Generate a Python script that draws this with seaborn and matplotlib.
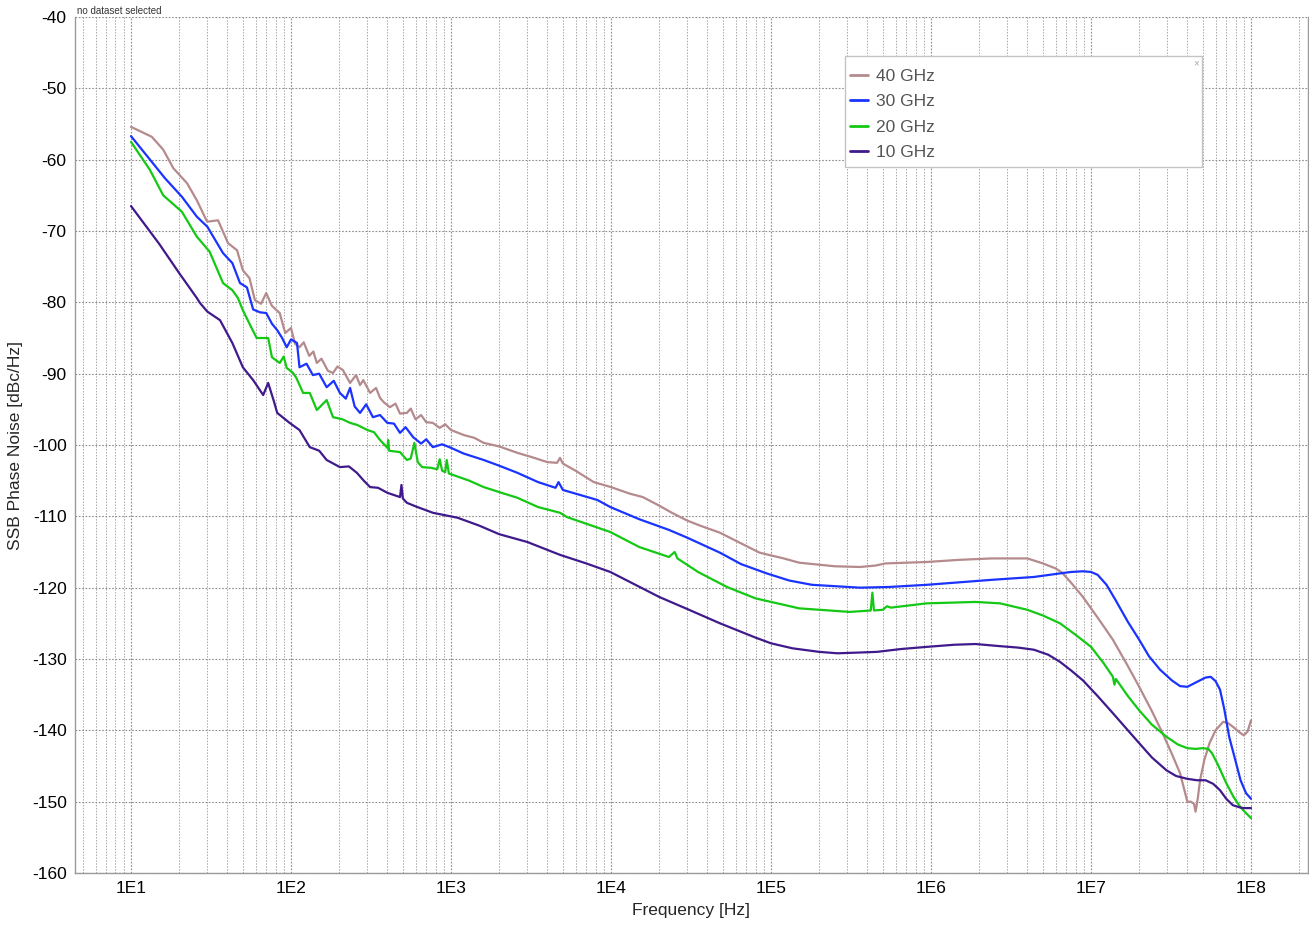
import numpy as np
import pandas as pd
import matplotlib
matplotlib.use("Agg")
import matplotlib.pyplot as plt
from matplotlib.patches import Rectangle
import seaborn as sns
from matplotlib.ticker import LogLocator, FixedLocator, NullFormatter

# ---------------- data ----------------
f_40 = [10, 13.5, 15.9, 18.4, 22.4, 25.8, 29.9, 35, 40.4, 46, 50, 55, 59.5, 65, 70, 76, 85, 92,
        100, 106, 113, 120, 130, 138, 145, 155, 170, 183, 195, 211, 234, 255, 270, 283, 312, 340,
        360, 380, 415, 450, 480, 530, 560, 600, 650, 700, 770, 850, 920, 1000, 1200, 1400, 1600,
        2000, 2600, 3200, 4000, 4600, 4800, 5000, 6000, 7800, 1.0e4, 1.3e4, 1.58e4, 2.0e4, 2.4e4,
        3.0e4, 3.6e4, 4.8e4, 6.0e4, 8.5e4, 1.2e5, 1.5e5, 2.5e5, 3.6e5, 4.5e5, 5.2e5, 9.4e5,
        1.5e6, 2.4e6, 4.0e6, 5.0e6, 6.0e6, 6.6e6, 7.5e6, 8.9e6, 1.1e7, 1.37e7, 1.7e7, 2.0e7,
        2.4e7, 2.8e7, 3.2e7, 3.6e7, 4.0e7, 4.2e7, 4.4e7, 4.5e7, 4.65e7, 4.8e7, 5.1e7, 5.5e7,
        6.0e7, 6.7e7, 7.2e7, 7.7e7, 8.5e7, 9.0e7, 9.5e7, 1.0e8]
db_40 = [-55.4, -56.8, -58.6, -61.2, -63.3, -65.7, -68.7, -68.5, -71.7, -72.7, -75.5, -76.6,
         -79.7, -80.2, -78.7, -80.5, -81.5, -84.3, -83.6, -85.8, -86.3, -85.6, -87.5, -86.9,
         -88.5, -87.9, -89.6, -89.9, -89.0, -89.5, -91.3, -90.2, -91.6, -90.9, -92.7, -92.0,
         -93.4, -94.0, -94.7, -94.2, -95.6, -95.5, -94.9, -96.4, -95.8, -96.8, -96.9, -97.6,
         -97.1, -97.9, -98.6, -99.0, -99.7, -100.2, -101.1, -101.7, -102.4, -102.5, -101.8,
         -102.6, -103.6, -105.2, -105.9, -106.8, -107.3, -108.5, -109.5, -110.6, -111.3, -112.3,
         -113.4, -115.1, -115.9, -116.5, -117.0, -117.1, -116.9, -116.6, -116.4, -116.1, -115.9,
         -115.9, -116.6, -117.3, -117.9, -119.3, -121.3, -124.2, -127.3, -131.0, -133.9, -137.3,
         -140.4, -143.3, -146.0, -150.0, -150.0, -150.3, -151.4, -149.5, -147.0, -144.2, -141.8,
         -140.0, -138.8, -139.0, -139.5, -140.3, -140.7, -140.2, -138.6]

f_30 = [10, 13.7, 16.3, 20.8, 25.8, 30, 37.6, 43, 48, 53, 58, 64, 70, 76, 82, 88, 94, 100, 109,
        113, 125, 137, 150, 167, 185, 202, 220, 234, 250, 270, 295, 325, 360, 400, 440, 480, 520,
        580, 650, 700, 770, 880, 1000, 1200, 1600, 2000, 2600, 3500, 4500, 4700, 5000, 8200,
        9.9e3, 1.5e4, 2.3e4, 3.0e4, 4.8e4, 6.5e4, 9.4e4, 1.3e5, 1.8e5, 3.6e5, 5.5e5, 9.4e5,
        2.4e6, 4.4e6, 6.4e6, 7.5e6, 8.9e6, 1.0e7, 1.1e7, 1.25e7, 1.42e7, 1.7e7, 2.0e7, 2.3e7,
        2.7e7, 3.2e7, 3.6e7, 4.0e7, 4.6e7, 5.2e7, 5.6e7, 6.0e7, 6.4e7, 6.8e7, 7.3e7, 8.0e7,
        8.6e7, 9.3e7, 1.0e8]
db_30 = [-56.7, -60.5, -62.6, -65.2, -68.0, -69.4, -73.1, -74.5, -77.3, -77.9, -81.0, -81.4,
         -81.5, -83.0, -83.9, -85.0, -86.3, -85.2, -85.7, -89.1, -88.6, -90.2, -90.0, -91.9,
         -91.0, -92.7, -93.5, -92.0, -94.6, -95.5, -94.3, -96.1, -95.8, -96.9, -97.0, -98.3,
         -97.5, -98.9, -99.8, -99.2, -100.3, -99.9, -100.4, -101.2, -102.1, -102.9, -103.9,
         -105.2, -106.0, -105.2, -106.3, -107.7, -108.7, -110.4, -111.9, -113.0, -115.1, -116.7,
         -118.0, -119.0, -119.6, -120.0, -119.9, -119.6, -118.9, -118.5, -118.0, -117.8, -117.7,
         -117.8, -118.2, -119.6, -121.7, -124.8, -127.3, -129.6, -131.5, -133.0, -133.8, -133.9,
         -133.2, -132.6, -132.5, -133.1, -134.3, -137.0, -140.9, -144.3, -147.0, -148.8, -149.6]

f_20 = [10, 13.1, 15.9, 20.8, 25.8, 31, 37.6, 43, 46.6, 50, 55, 61, 72, 76, 85, 90, 94, 103, 108,
        119, 131, 145, 167, 183, 210, 234, 260, 300, 330, 360, 400, 405, 410, 480, 530, 560, 590,
        620, 660, 750, 820, 850, 880, 920, 940, 970, 1030, 1300, 1600, 2000, 2600, 3500, 4800,
        5300, 9.9e3, 1.5e4, 2.3e4, 2.5e4, 2.6e4, 3.5e4, 5.3e4, 8.0e4, 1.5e5, 3.1e5, 4.2e5, 4.3e5,
        4.4e5, 5.0e5, 5.3e5, 5.6e5, 9.4e5, 1.9e6, 2.7e6, 4.0e6, 5.0e6, 6.4e6, 8.0e6, 1.0e7,
        1.2e7, 1.37e7, 1.40e7, 1.43e7, 1.7e7, 2.0e7, 2.4e7, 2.96e7, 3.5e7, 4.0e7, 4.5e7, 5.0e7,
        5.4e7, 5.7e7, 6.2e7, 7.0e7, 7.8e7, 8.6e7, 9.3e7, 1.0e8]
db_20 = [-57.5, -61.4, -65.0, -67.3, -70.8, -72.9, -77.3, -78.3, -79.4, -81.1, -83.0, -85.0,
         -85.0, -87.7, -88.5, -87.6, -89.2, -89.9, -90.6, -92.7, -92.7, -95.1, -93.7, -96.1,
         -96.4, -96.9, -97.2, -97.9, -98.2, -99.3, -100.4, -99.3, -100.8, -101.0, -102.1, -101.9,
         -99.7, -102.4, -103.1, -103.2, -103.4, -102.0, -103.6, -103.8, -102.1, -104.0, -104.2,
         -105.0, -105.9, -106.6, -107.4, -108.7, -109.5, -110.1, -112.2, -114.3, -115.7, -115.0,
         -115.9, -117.8, -119.9, -121.5, -122.9, -123.4, -123.2, -120.7, -123.2, -123.1, -122.6,
         -122.8, -122.2, -122.0, -122.2, -123.1, -123.9, -125.0, -126.6, -128.3, -130.6, -132.5,
         -133.6, -132.8, -135.2, -137.2, -139.2, -140.9, -142.0, -142.5, -142.6, -142.5, -142.6,
         -143.2, -144.8, -147.4, -149.4, -150.8, -151.6, -152.3]

f_10 = [10, 15, 20, 25.8, 27, 30, 36, 43, 50, 58, 67, 72, 78, 82, 98, 113, 131, 150, 167, 202,
        230, 258, 285, 312, 350, 400, 480, 490, 500, 530, 600, 770, 1100, 1500, 2000, 3000, 4800,
        7000, 9.9e3, 2.0e4, 3.0e4, 4.8e4, 8.0e4, 1.0e5, 1.36e5, 2.0e5, 2.6e5, 3.5e5, 4.6e5,
        6.5e5, 9.4e5, 1.4e6, 1.9e6, 2.7e6, 3.5e6, 4.4e6, 5.4e6, 6.4e6, 7.5e6, 8.9e6, 1.1e7,
        1.37e7, 1.7e7, 2.0e7, 2.4e7, 2.96e7, 3.4e7, 4.0e7, 4.6e7, 5.2e7, 5.8e7, 6.4e7, 7.0e7,
        7.7e7, 8.5e7, 9.0e7, 1.0e8]
db_10 = [-66.5, -71.8, -75.9, -79.4, -80.1, -81.3, -82.5, -85.7, -89.1, -90.9, -93.0, -91.3,
         -93.8, -95.5, -96.9, -97.9, -100.3, -100.8, -102.1, -103.1, -103.0, -103.9, -105.0,
         -105.9, -106.0, -106.7, -107.3, -105.6, -107.5, -108.1, -108.6, -109.5, -110.2, -111.3,
         -112.5, -113.6, -115.4, -116.6, -117.8, -121.3, -123.0, -125.0, -127.0, -127.8, -128.5,
         -129.0, -129.2, -129.1, -129.0, -128.6, -128.3, -128.0, -127.9, -128.2, -128.4, -128.7,
         -129.4, -130.4, -131.6, -133.0, -135.2, -137.6, -140.0, -141.8, -143.8, -145.6, -146.4,
         -146.8, -147.0, -147.0, -147.5, -148.4, -149.6, -150.5, -150.8, -150.9, -150.9]

series_names = ["40 GHz", "30 GHz", "20 GHz", "10 GHz"]
series_colors = ["#B48A8D", "#1A33FF", "#14C814", "#401A8C"]
x_ticks = [1e1, 1e2, 1e3, 1e4, 1e5, 1e6, 1e7, 1e8]
x_tick_labels = ["1E1", "1E2", "1E3", "1E4", "1E5", "1E6", "1E7", "1E8"]
y_ticks = list(range(-160, -39, 10))

frames = []
for name, f, d in zip(series_names, [f_40, f_30, f_20, f_10], [db_40, db_30, db_20, db_10]):
    frames.append(pd.DataFrame({"Frequency": f, "Noise": d, "Series": name}))
df = pd.concat(frames, ignore_index=True)

# ---------------- figure ----------------
sns.set_style("white")
plt.rcParams["font.family"] = ["Liberation Sans", "DejaVu Sans"]

W, H = 1309, 932
fig = plt.figure(figsize=(W / 100, H / 100), dpi=100)
ax = fig.add_axes([75 / W, 1 - 873 / H, (1308 - 75) / W, (873 - 17) / H])

sns.lineplot(data=df, x="Frequency", y="Noise", hue="Series", hue_order=series_names,
             palette=dict(zip(series_names, series_colors)), estimator=None, sort=False,
             linewidth=1.6, ax=ax, legend=True)

ax.set_xscale("log")
ax.set_xlim(10 ** 0.65, 10 ** 8.356)
ax.set_ylim(-160, -40)

ax.xaxis.set_major_locator(FixedLocator(x_ticks))
ax.set_xticklabels(x_tick_labels)
ax.xaxis.set_minor_locator(LogLocator(base=10, subs=np.arange(2, 10), numticks=100))
ax.xaxis.set_minor_formatter(NullFormatter())
ax.set_yticks(y_ticks)
ax.set_yticklabels([str(v) for v in y_ticks])

ax.tick_params(axis="both", which="both", length=0, labelsize=12.5, colors="black", pad=6)
ax.grid(True, which="major", axis="both", color="#8c8c8c", linestyle=(0, (1.5, 1.5)), linewidth=0.8)
ax.grid(True, which="minor", axis="x", color="#a8a8a8", linestyle=(0, (1.5, 1.5)), linewidth=0.7)

for side in ["left", "bottom", "right"]:
    ax.spines[side].set_color("#9a9a9a")
    ax.spines[side].set_linewidth(1.0)
ax.spines["top"].set_visible(False)

ax.set_xlabel("Frequency [Hz]", fontsize=12.5, labelpad=5)
ax.set_ylabel("SSB Phase Noise [dBc/Hz]", fontsize=12.5, labelpad=6)

fig.text(77 / W, 1 - 11 / H, "no dataset selected", fontsize=7, color="#333333", va="center", ha="left")

# legend: frame drawn as a figure patch, entries as a frameless figure legend on top
handles, labels = ax.get_legend_handles_labels()
ax.get_legend().remove()
fig.patches.append(Rectangle((845 / W, 1 - 167 / H), (1202 - 845) / W, (167 - 56) / H,
                             transform=fig.transFigure, facecolor="white",
                             edgecolor="#c4c4c4", linewidth=1.0, zorder=1))
leg = fig.legend(handles, labels, loc="upper left", bbox_to_anchor=(850 / W, 1 - 68.5 / H),
                 bbox_transform=fig.transFigure, borderaxespad=0, borderpad=0,
                 fontsize=12.5, frameon=False, handlelength=1.05,
                 handletextpad=0.45, labelspacing=0.6)
for t in leg.get_texts():
    t.set_color("#555555")
for l in leg.get_lines():
    l.set_linewidth(2.0)
fig.text(1196 / W, 1 - 63 / H, "×", fontsize=7, color="#aaaaaa", ha="center", va="center")

fig.savefig("out.png", dpi=100)
